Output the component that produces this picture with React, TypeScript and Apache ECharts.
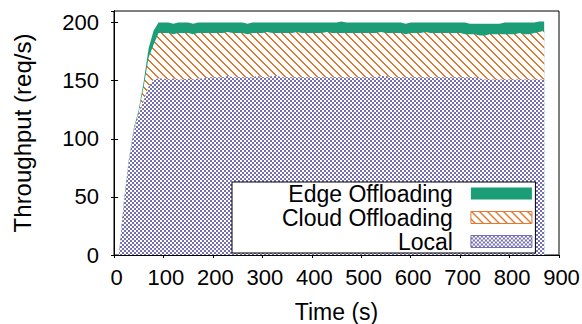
import React, { useEffect, useRef } from "react";
import * as echarts from "echarts";

const times = [
  10, 20, 30, 40, 50, 60, 70, 80, 90,
  100, 110, 120, 130, 140, 150, 160, 170, 180, 190,
  200, 210, 220, 230, 240, 250, 260, 270, 280, 290,
  300, 310, 320, 330, 340, 350, 360, 370, 380, 390,
  400, 410, 420, 430, 440, 450, 460, 470, 480, 490,
  500, 510, 520, 530, 540, 550, 560, 570, 580, 590,
  600, 610, 620, 630, 640, 650, 660, 670, 680, 690,
  700, 710, 720, 730, 740, 750, 760, 770, 780, 790,
  800, 810, 820, 830, 840, 850, 860, 870,
];

const local = [
  0, 44, 80, 106, 121, 133, 145, 151, 152,
  152, 151, 152, 151, 151, 152, 151, 152, 152, 153,
  153, 153, 153, 154, 153, 153, 153, 153, 153, 154,
  153, 153, 154, 154, 153, 153, 153, 153, 153, 153,
  153, 153, 153, 153, 153, 153, 153, 153, 153, 153,
  153, 153, 153, 153, 154, 154, 153, 153, 153, 153,
  153, 153, 153, 153, 153, 153, 153, 153, 153, 153,
  153, 153, 153, 153, 152, 151, 151, 151, 151, 151,
  151, 151, 151, 151, 151, 151, 151, 151,
];

const cloud = [
  0, 1, 1, 2, 2, 12, 25, 30, 39,
  39, 40, 38, 40, 40, 39, 39, 39, 39, 38,
  38, 38, 38, 38, 38, 38, 38, 37, 38, 37,
  38, 39, 37, 37, 38, 38, 38, 39, 38, 38,
  38, 38, 38, 39, 38, 38, 38, 38, 38, 38,
  38, 38, 38, 38, 38, 37, 38, 38, 38, 37,
  38, 38, 38, 39, 38, 38, 38, 38, 38, 38,
  38, 37, 37, 37, 37, 38, 39, 39, 39, 39,
  39, 39, 40, 39, 39, 40, 41, 42,
];

const edge = [
  0, 1, 1, 1, 2, 4, 8, 12, 9,
  9, 9, 9, 9, 9, 9, 9, 9, 9, 9,
  9, 9, 9, 8, 9, 9, 9, 9, 9, 9,
  9, 8, 9, 9, 9, 9, 9, 8, 9, 9,
  9, 9, 9, 8, 9, 9, 10, 9, 9, 9,
  9, 9, 9, 9, 8, 9, 9, 9, 9, 9,
  9, 9, 9, 8, 9, 9, 9, 9, 9, 9,
  9, 10, 9, 9, 10, 10, 9, 9, 9, 10,
  10, 10, 9, 10, 10, 9, 9, 8,
];

const seriesNames = ["Edge Offloading", "Cloud Offloading", "Local"];

const GREEN = "#1b9e77";
const ORANGE = "#e2772d";
const PURPLE = "#7570b3";
const FONT = "Liberation Sans";

function makeChecker() {
  const n = 8;
  const c = document.createElement("canvas");
  c.width = n;
  c.height = n;
  const g = c.getContext("2d")!;
  g.fillStyle = "#ffffff";
  g.fillRect(0, 0, n, n);
  g.fillStyle = PURPLE;
  for (let y = 0; y < n; y += 2) {
    for (let x = 0; x < n; x += 2) {
      if (((x + y) / 2) % 2 === 1) g.fillRect(x, y, 2, 2);
    }
  }
  return c;
}

function makeHatch() {
  const n = 8;
  const c = document.createElement("canvas");
  c.width = n;
  c.height = n;
  const g = c.getContext("2d")!;
  g.fillStyle = "#ffffff";
  g.fillRect(0, 0, n, n);
  g.fillStyle = ORANGE;
  for (let y = 0; y < n; y++) {
    g.fillRect(y, y, 1, 1);
    g.fillRect((y + 1) % n, y, 1, 1);
  }
  return c;
}

export default function App() {
  const ref = useRef<HTMLDivElement>(null);

  useEffect(() => {
    if (!ref.current) return;
    const chart = echarts.init(ref.current, undefined, { renderer: "svg" });

    const checker = { image: makeChecker(), repeat: "repeat" };
    const checker2 = { image: makeChecker(), repeat: "repeat" };
    const hatch = { image: makeHatch(), repeat: "repeat" };
    const hatch2 = { image: makeHatch(), repeat: "repeat" };

    const cloudTop = local.map((v, i) => v + cloud[i]);
    const edgeTop = cloudTop.map((v, i) => v + edge[i]);

    const mk = (name: string, vals: number[], fill: any, color: string) => ({
      name,
      type: "line",
      xAxisIndex: 0,
      yAxisIndex: 0,
      data: times.map((t, i) => [t, vals[i]]),
      symbol: "none",
      showSymbol: false,
      silent: true,
      lineStyle: { width: 0, color },
      itemStyle: { color },
      areaStyle: { color: fill, opacity: 1 },
    });

    const labelStyle = { fontFamily: FONT, fontSize: 22, color: "#000" };

    chart.setOption({
      animation: false,
      backgroundColor: "#ffffff",
      textStyle: { fontFamily: FONT },
      grid: {
        left: 114,
        right: 23,
        top: 11,
        bottom: 69,
        containLabel: false,
        outerBoundsMode: "none",
        show: true,
        borderColor: "#000",
        borderWidth: 1,
        backgroundColor: "transparent",
      },
      xAxis: [
        {
          type: "value",
          min: 0,
          max: 900,
          interval: 100,
          position: "bottom",
          z: 5,
          name: "Time (s)",
          nameLocation: "middle",
          nameGap: 45,
          nameTextStyle: { fontFamily: FONT, fontSize: 23, color: "#000" },
          axisLine: { show: true, lineStyle: { color: "#000", width: 1 } },
          axisTick: { show: false },
          axisLabel: { ...labelStyle, margin: 11, padding: [0, 0, 0, 5] },
          splitLine: { show: false },
        },
        {
          type: "value",
          min: 0,
          max: 900,
          interval: 100,
          position: "top",
          z: 5,
          axisLine: { show: true, lineStyle: { color: "#000", width: 1 } },
          axisTick: { show: true, inside: true, length: 3, lineStyle: { color: "#000" } },
          axisLabel: { show: false },
          splitLine: { show: false },
        },
      ],
      yAxis: [
        {
          type: "value",
          min: 0,
          max: 210,
          interval: 50,
          position: "left",
          z: 5,
          name: "Throughput (req/s)",
          nameLocation: "middle",
          nameGap: 80,
          nameRotate: 90,
          nameTextStyle: { fontFamily: FONT, fontSize: 24, color: "#000" },
          axisLine: { show: true, lineStyle: { color: "#000", width: 1 } },
          axisTick: { show: true, inside: true, length: 4, lineStyle: { color: "#000" } },
          axisLabel: { ...labelStyle, margin: 15, showMaxLabel: false },
          splitLine: { show: false },
        },
        {
          type: "value",
          min: 0,
          max: 210,
          interval: 50,
          position: "right",
          z: 5,
          axisLine: { show: true, lineStyle: { color: "#000", width: 1 } },
          axisTick: { show: true, inside: true, length: 3, lineStyle: { color: "#000" } },
          axisLabel: { show: false },
          splitLine: { show: false },
        },
      ],
      legend: {
        orient: "vertical",
        align: "right",
        left: 232,
        top: 182,
        padding: [0, 3, 0, 50],
        itemGap: 1,
        itemWidth: 61,
        itemHeight: 12,
        icon: "rect",
        selectedMode: false,
        backgroundColor: "#ffffff",
        borderColor: "#000",
        borderWidth: 1,
        borderRadius: 0,
        textStyle: {
          fontFamily: FONT,
          fontSize: 23,
          color: "#000",
          lineHeight: 22,
          padding: [0, 13, 0, 0],
        },
        data: [
          { name: seriesNames[0], itemStyle: { color: GREEN, borderWidth: 0 } },
          { name: seriesNames[1], itemStyle: { color: hatch2, borderColor: ORANGE, borderWidth: 1 } },
          { name: seriesNames[2], itemStyle: { color: checker2, borderColor: PURPLE, borderWidth: 1 } },
        ],
      },
      series: [
        mk(seriesNames[0], edgeTop, GREEN, GREEN),
        mk(seriesNames[1], cloudTop, hatch, ORANGE),
        mk(seriesNames[2], local, checker, PURPLE),
      ],
    });

    return () => chart.dispose();
  }, []);

  return (
    <div
      ref={ref}
      style={{ position: "fixed", left: 0, top: 0, width: 582, height: 324 }}
    />
  );
}
